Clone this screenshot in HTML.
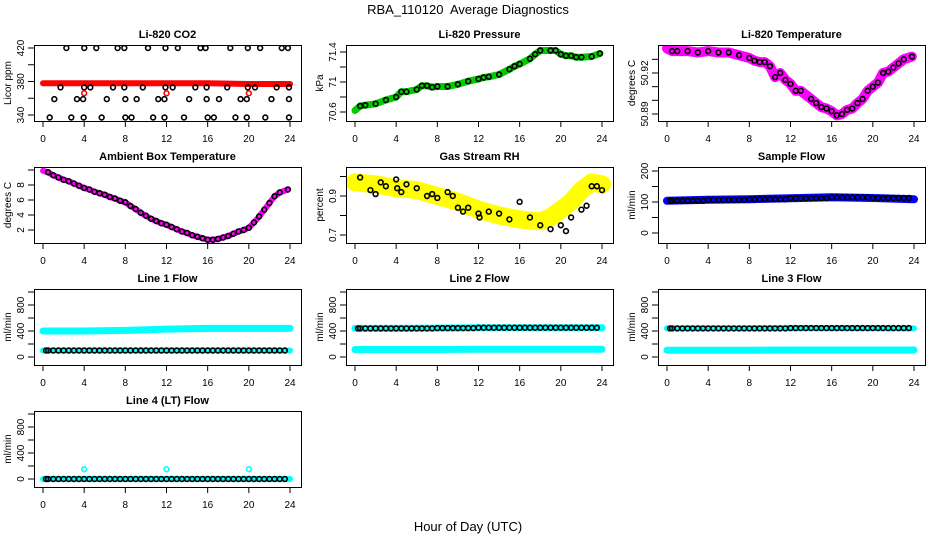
<!DOCTYPE html>
<html><head><meta charset="utf-8"><style>
body{margin:0;background:#fff}
svg{display:block;font-family:"Liberation Sans",sans-serif}
</style></head><body>
<svg id="c" width="936" height="540" viewBox="0 0 936 540" xmlns="http://www.w3.org/2000/svg">
<rect width="936" height="540" fill="#fff"/>
<text x="468" y="14" text-anchor="middle" font-size="13">RBA_110120&#160; Average Diagnostics</text>
<text x="468" y="531" text-anchor="middle" font-size="13">Hour of Day (UTC)</text>
</svg>
<script>
// ---- data ----
const xTicks = [0,4,8,12,16,20,24];
const co2BandH = [0,4,8,12,16,20,24];
const co2BandV = [378,378,378,378,378,377,377];
const co2PtsH = [2.27,4.01,5.18,7.25,7.9,10.2,11.9,13.1,15.3,15.8,18.2,19.9,21.1,23.2,23.8,
 1.7,4.0,4.6,6.8,7.9,9.7,11.9,12.6,14.8,15.9,17.9,19.9,20.6,22.7,23.9,
 1.1,3.3,3.9,6.2,8.0,9.1,11.2,11.8,14.2,15.9,17.1,19.2,19.8,22.2,23.9,
 0.65,2.75,3.95,5.7,8.0,8.6,10.7,11.8,13.7,16.0,16.6,18.7,19.8,21.6,23.9];
const co2PtsV = [420,420,420,420,420,420,420,420,420,420,420,420,420,420,420,
 373,373,373,373,373,373,373,373,373,373,373,373,373,373,373,
 359,359,359,359,359,359,359,359,359,359,359,359,359,359,359,
 337,337,337,337,337,337,337,337,337,337,337,337,337,337,337];
const co2RedH = [4,12,20];
const co2RedV = [366,366,366];

const presH = [0,0.5,1,2,3,4,4.5,5,6,6.5,7,7.5,8,9,10,11,12,12.5,13,14,15,15.5,16,17,17.5,18,19,19.5,20,20.5,21,21.5,22,23,23.8];
const presV = [70.62,70.68,70.69,70.71,70.76,70.80,70.87,70.87,70.90,70.95,70.95,70.93,70.94,70.94,70.97,71.01,71.04,71.06,71.07,71.10,71.17,71.21,71.24,71.31,71.37,71.42,71.42,71.42,71.37,71.35,71.35,71.33,71.33,71.34,71.38];

const tempH = [0,0.5,1,2,3,4,5,6,7,8,8.5,9,9.5,10,10.5,11,11.5,12,12.5,13,14,14.5,15,15.5,16,16.5,17,17.5,18,18.5,19,19.5,20,20.5,21,21.5,22,22.5,23,23.8];
const tempV = [50.938,50.936,50.936,50.936,50.935,50.936,50.935,50.935,50.933,50.931,50.929,50.928,50.928,50.925,50.917,50.920,50.915,50.912,50.907,50.907,50.901,50.898,50.895,50.894,50.892,50.889,50.890,50.893,50.894,50.898,50.901,50.907,50.910,50.913,50.920,50.921,50.924,50.927,50.930,50.932];

const ambH = [0,0.5,1,1.5,2,2.5,3,3.5,4,4.5,5,5.5,6,6.5,7,7.5,8,8.5,9,9.5,10,10.5,11,11.5,12,12.5,13,13.5,14,14.5,15,15.5,16,16.5,17,17.5,18,18.5,19,19.5,20,20.5,21,21.5,22,22.5,23,23.8];
const ambV = [9.9,9.7,9.3,9.0,8.7,8.5,8.2,7.9,7.6,7.4,7.1,6.9,6.7,6.4,6.2,5.9,5.7,5.2,4.8,4.3,3.9,3.5,3.2,2.9,2.7,2.4,2.1,1.8,1.6,1.3,1.1,0.9,0.7,0.7,0.8,1.0,1.2,1.5,1.8,2.0,2.3,3.0,3.8,4.7,5.6,6.5,7.0,7.4];

const rhBandH = [0,2,4,6,8,10,12,14,16,18,19,20,21,22,23,24];
const rhBandV = [0.97,0.96,0.94,0.93,0.90,0.87,0.83,0.80,0.78,0.77,0.79,0.83,0.87,0.93,0.97,0.96];
const rhPtsH = [0.5,1.5,2,2.5,3,4,4.1,4.5,5,6,7,7.5,8,9,9.5,10,10.5,11,12,12.1,13,14,15,16,17,18,19,20,20.5,21,22,22.5,23,23.5,24];
const rhPtsV = [0.995,0.93,0.91,0.97,0.95,0.985,0.94,0.92,0.96,0.94,0.90,0.91,0.89,0.92,0.90,0.84,0.82,0.84,0.81,0.79,0.82,0.81,0.78,0.87,0.79,0.75,0.73,0.75,0.72,0.79,0.83,0.85,0.95,0.95,0.93];

const sfH = [0,4,8,12,16,20,24];
const sfV = [104,107,109,112,115,113,109];

const l1UpH = [0,4,8,12,16,20,24];
const l1UpV = [400,400,410,430,440,440,440];
const l1LoV = [100,100,100,100,100,100,100];
const l2UpV = [440,440,445,450,450,450,450];
const l2LoV = [115,115,115,118,118,118,118];
const l3UpV = [440,440,440,445,445,445,440];
const l3LoV = [105,105,105,108,108,108,108];
const l4V = [0,0,0,0,0,0,0];
const l4SpikeH = [4,12,20];
const l4SpikeV = [150,150,150];
</script>
<script>
const svg = document.getElementById('c');
const NS = 'http://www.w3.org/2000/svg';
function mk(tag, attrs, parent){const e=document.createElementNS(NS,tag);for(const k in attrs)e.setAttribute(k,attrs[k]);(parent||svg).appendChild(e);return e;}

function panel(col,row,title,ylab,yMin,yMax,yPxMin,yPxMax,yTicks,yLabels,name){
  const bx = 34+col*312, bw = 267, by = 45+row*122, bh = 76;
  const x0 = 43+col*312, x24 = 290+col*312;
  const X = h => x0 + (x24-x0)*h/24;
  const yb = 45+row*122;
  const Y = v => yb + yPxMin + (v-yMin)/(yMax-yMin)*(yPxMax-yPxMin);
  const g = mk('g',{});
  
  
  const t = mk('text',{x:(bx+bw/2),y:by-7,'text-anchor':'middle','font-size':11,'font-weight':'bold'},g);
  t.textContent = title;
  
  
  const yl = mk('text',{x:0,y:0,'text-anchor':'middle','font-size':10,transform:`translate(${bx-23},${by+bh/2}) rotate(-90)`},g);
  yl.textContent = ylab;
  
  
  xTicks.forEach(h=>{
    mk('line',{x1:X(h),x2:X(h),y1:by+bh,y2:by+bh+6,stroke:'#000'},g);
    const tx = mk('text',{x:X(h),y:by+bh+21,'text-anchor':'middle','font-size':10},g);
    tx.textContent = h;
    
    
  });
  mk('line',{x1:X(0),x2:X(24),y1:by+bh+0.5,y2:by+bh+0.5,stroke:'#000'},g);
  yTicks.forEach(v=>{
    mk('line',{x1:bx-6,x2:bx,y1:Y(v),y2:Y(v),stroke:'#000'},g);
  });
  yLabels.forEach(v=>{
    const ty = mk('text',{x:0,y:0,'text-anchor':'middle','font-size':10,transform:`translate(${bx-10},${Y(v)}) rotate(-90)`},g);
    ty.textContent = v;
    
    
  });
  const clip = mk('clipPath',{id:'cl'+name},g);
  mk('rect',{x:bx,y:by,width:bw,height:bh},clip);
  const plot = mk('g',{'clip-path':`url(#cl${name})`},g);
  mk('rect',{x:bx+0.5,y:by+0.5,width:bw,height:bh,fill:'none',stroke:'#000'},g);
  return {X,Y,plot};
}
function band(p,hs,vs,color,w,name){
  const d = hs.map((h,i)=>(i?'L':'M')+p.X(h).toFixed(1)+','+p.Y(vs[i]).toFixed(1)).join(' ');
  const e = mk('path',{d,fill:'none',stroke:color,'stroke-width':w,'stroke-linejoin':'round','stroke-linecap':'round'},p.plot);
  
  
}
function pts(p,hs,vs,color,name,r){
  hs.forEach((h,i)=>{
    const c = mk('circle',{cx:p.X(h),cy:p.Y(vs[i]),r:r||2.4,fill:'none',stroke:color,'stroke-width':1.6},p.plot);
    
    
  });
}
function rowPts(p,hs,vs,color,name){ // circles along a flat series segment-by-segment
  const H=[],V=[];
  for(let i=0;i<hs.length-1;i++){
    for(let k=0;k<8;k++){H.push(hs[i]+k*0.5+(i===0&&k===0?0.3:0));V.push(vs[i]);}
  }
  pts(p,H,V,color,name);
}

// Row 1
let p = panel(0,0,'Li-820 CO2','Licor ppm',340,420,70,3,[340,360,380,400,420],[340,380,420],'co2');
band(p,co2BandH,co2BandV,'#ff0000',6,'co2-raw-band');
pts(p,co2PtsH,co2PtsV,'#000','co2-mean-point');
pts(p,co2RedH,co2RedV,'#ff0000','co2-red-point');

p = panel(1,0,'Li-820 Pressure','kPa',70.6,71.4,67,7,[70.6,70.8,71.0,71.2,71.4],[70.6,71.0,71.4],'pressure');
band(p,presH,presV,'#00cc00',7,'pressure-raw-band');
pts(p,presH.slice(1),presV.slice(1),'#000','pressure-mean-point');

p = panel(2,0,'Li-820 Temperature','degrees C',50.89,50.92,69,28,[50.89,50.90,50.91,50.92,50.93],[50.89,50.92],'temperature');
band(p,tempH,tempV,'#ff00ff',10,'temperature-raw-band');
pts(p,tempH.slice(1),tempV.slice(1),'#000','temperature-mean-point');

// Row 2
p = panel(0,1,'Ambient Box Temperature','degrees C',2,8,63,18,[2,4,6,8,10],[2,4,6,8],'ambient');
band(p,ambH,ambV,'#ff00ff',6,'ambient-raw-band');
pts(p,ambH.slice(1),ambV.slice(1),'#000','ambient-mean-point');

p = panel(1,1,'Gas Stream RH','percent',0.7,0.9,68,29,[0.7,0.8,0.9,1.0],[0.7,0.9],'rh');
band(p,rhBandH,rhBandV,'#ffff00',18,'rh-raw-band');
pts(p,rhPtsH,rhPtsV,'#000','rh-mean-point');

p = panel(2,1,'Sample Flow','ml/min',0,200,66,4,[0,50,100,150,200],[0,100,200],'sample-flow');
band(p,sfH,sfV,'#0000ff',8,'sample-flow-raw-band');
rowPts(p,sfH,sfV,'#000','sample-flow-mean-point');

// Row 3
p = panel(0,2,'Line 1 Flow','ml/min',0,800,68,16,[0,200,400,600,800,1000],[0,400,800],'line1');
band(p,l1UpH,l1UpV,'#00ffff',7,'line1-upper-band');
band(p,l1UpH,l1LoV,'#00ffff',6,'line1-lower-band');
rowPts(p,l1UpH,l1LoV,'#000','line1-mean-point');

p = panel(1,2,'Line 2 Flow','ml/min',0,800,68,16,[0,200,400,600,800,1000],[0,400,800],'line2');
band(p,l1UpH,l2UpV,'#00ffff',7,'line2-upper-band');
band(p,l1UpH,l2LoV,'#00ffff',7,'line2-lower-band');
rowPts(p,l1UpH,l2UpV,'#000','line2-mean-point');

p = panel(2,2,'Line 3 Flow','ml/min',0,800,68,16,[0,200,400,600,800,1000],[0,400,800],'line3');
band(p,l1UpH,l3UpV,'#00ffff',6,'line3-upper-band');
band(p,l1UpH,l3LoV,'#00ffff',7,'line3-lower-band');
rowPts(p,l1UpH,l3UpV,'#000','line3-mean-point');

// Row 4
p = panel(0,3,'Line 4 (LT) Flow','ml/min',0,800,68,16,[0,200,400,600,800,1000],[0,400,800],'line4');
band(p,l1UpH,l4V,'#00ffff',6,'line4-band');
rowPts(p,l1UpH,l4V,'#000','line4-mean-point');
pts(p,l4SpikeH,l4SpikeV,'#00ffff','line4-spike-point');
</script>
</body></html>
